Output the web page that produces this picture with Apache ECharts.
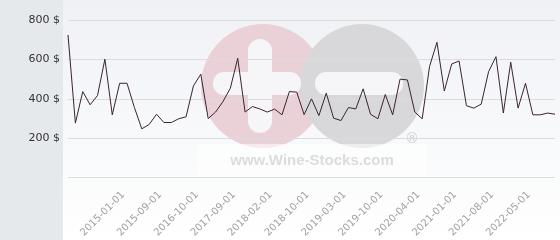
<!DOCTYPE html>
<html><head><meta charset="utf-8">
<script src="https://cdn.jsdelivr.net/npm/echarts@6/dist/echarts.min.js"></script>
<style>html,body{margin:0;padding:0;background:#fff}#c{width:560px;height:240px}</style>
</head><body><div id="c"></div>
<script>
// Data
var values = [724,277,437,370,417,601,319,479,479,356,248,270,322,280,280,299,309,466,525,300,
  333,386,454,606,333,361,349,333,348,319,437,434,320,400,315,429,302,290,356,349,
  451,322,299,422,319,500,496,333,299,564,687,440,577,592,365,353,373,538,614,328,
  586,353,479,319,319,328,322];
var tickLabels = ['2015-01-01','2015-09-01','2016-10-01','2017-09-01','2018-02-01','2018-10-01',
  '2019-03-01','2019-10-01','2020-04-01','2021-01-01','2021-08-01','2022-05-01'];
var tickFirst = 7, tickStep = 5;
var yTicks = [0,200,400,600,800];

var categories = values.map(function(v,i){
  var k = (i - tickFirst) / tickStep;
  return (k >= 0 && k === Math.floor(k) && k < tickLabels.length) ? tickLabels[k] : 'p' + i;
});

var chart = echarts.init(document.getElementById('c'));
chart.setOption({
  animation: false,
  grid: {left: 68, right: 5, top: 20, bottom: 62},
  graphic: [
    {type:'rect', z:-10, shape:{x:0,y:0,width:63,height:240}, style:{fill:'#e6e9ec'}},
    {type:'rect', z:-10, shape:{x:63,y:0,width:497,height:240},
      style:{fill:new echarts.graphic.LinearGradient(0,0,0,1,[{offset:0,color:'#eff1f5'},{offset:1,color:'#ffffff'}])}},
    {type:'circle', z:-9, shape:{cx:263,cy:86,r:62}, style:{fill:'#eAd1d8'}},
    {type:'circle', z:-9, shape:{cx:362,cy:86,r:62}, style:{fill:'#d8d8da'}},
    {type:'rect', z:-8, shape:{x:248,y:39,width:24,height:94,r:12}, style:{fill:'#f6f6f8'}},
    {type:'rect', z:-8, shape:{x:213,y:72,width:88,height:23,r:11}, style:{fill:'#f6f6f8'}},
    {type:'rect', z:-8, shape:{x:315,y:72,width:88,height:23,r:11}, style:{fill:'#f6f6f8'}},
    {type:'rect', z:-8, shape:{x:198,y:144,width:229,height:32}, style:{fill:'rgba(255,255,255,0.55)'}},
    {type:'text', z:-7, style:{x:312,y:161,text:'www.Wine-Stocks.com',fill:'#dcdcde',
      font:'bold 15px "Liberation Sans", Arial, sans-serif',align:'center',verticalAlign:'middle'}},
    {type:'text', z:-7, style:{x:412,y:139,text:'®',fill:'#cfcfd2',
      font:'14px "DejaVu Sans", sans-serif',align:'center',verticalAlign:'middle'}}
  ],
  xAxis: {
    type: 'category', data: categories, boundaryGap: false,
    axisLine: {show:false}, axisTick: {show:false},
    axisLabel: {
      rotate: 45, color: '#a0a0a0', fontSize: 10, fontFamily: '"DejaVu Sans", sans-serif', margin: 12,
      verticalAlign: 'top',
      interval: function(i){ return i >= tickFirst && (i - tickFirst) % tickStep === 0; },
      formatter: function(v){ return v.charAt(0) === 'p' ? '' : v; }
    },
    splitLine: {show:false}
  },
  yAxis: {
    type: 'value', min: yTicks[0], max: yTicks[yTicks.length-1], interval: 200,
    axisLine:{show:false}, axisTick:{show:false},
    axisLabel: {color:'#333', fontSize: 11, fontFamily:'"DejaVu Sans", sans-serif', margin: 8,
      formatter: function(v){ return v === 0 ? '' : v + ' $'; }},
    splitLine: {lineStyle:{color:'#dcdcde', width:1}}
  },
  series: [{
    type: 'line', data: values, symbol: 'none',
    lineStyle: {color:'#3a2430', width:1}
  }]
});
</script></body></html>
